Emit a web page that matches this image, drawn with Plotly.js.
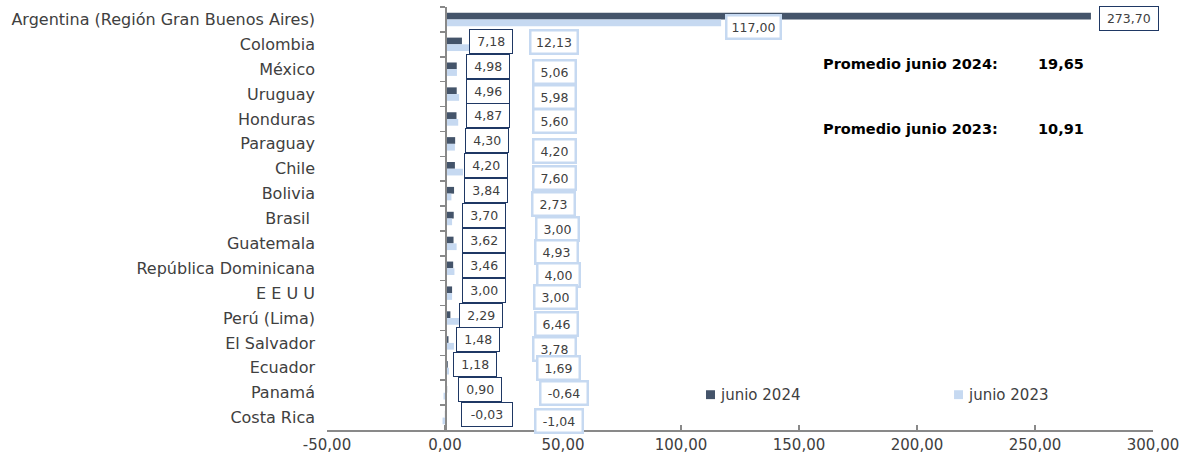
<!DOCTYPE html>
<html>
<head>
<meta charset="utf-8">
<script src="https://cdn.plot.ly/plotly-3.0.1.min.js"></script>
<style>html,body{margin:0;padding:0;background:#fff}#chart{width:1184px;height:457px}</style>
</head>
<body>
<div id="chart"></div>
<script>
// ---- data ----
const categories = ["Argentina (Región Gran Buenos Aires)","Colombia","México","Uruguay","Honduras","Paraguay","Chile","Bolivia","Brasil ","Guatemala","República Dominicana","E E U U","Perú (Lima)","El Salvador","Ecuador","Panamá","Costa Rica"];
const junio2024 = [273.70,7.18,4.98,4.96,4.87,4.30,4.20,3.84,3.70,3.62,3.46,3.00,2.29,1.48,1.18,0.90,-0.03];
const junio2023 = [117.00,12.13,5.06,5.98,5.60,4.20,7.60,2.73,3.00,4.93,4.00,3.00,6.46,3.78,1.69,-0.64,-1.04];
const seriesNames = ["junio 2024","junio 2023"];
const xTickVals = [-50,0,50,100,150,200,250,300];
const xTickText = ["-50,00","0,00","50,00","100,00","150,00","200,00","250,00","300,00"];
const promedioLabels = ["Promedio junio 2024:","Promedio junio 2023:"];
const promedioValues = ["19,65","10,91"];

// ---- label placement (layout only) ----
const lbl24X = [289.8,19.7,18.2,18.4,18.2,17.8,17.4,17.2,16.7,16.5,16.7,16.7,15.4,14.0,12.9,14.7,17.9];
const lbl24Dy = [1.4,3,3,3,3,3,3,3,3,3,3,3,3,3,3,3,3];
const lbl23X = [130.6,46.0,46.3,46.3,46.4,46.2,46.2,46.0,47.5,47.2,48.1,46.8,47.3,46.2,47.9,50.5,48.4];
const lbl23Dy = [-7.9,2.6,-3.1,-3.2,-2,-7.1,-9.2,-10.3,-10.4,-8.5,-6.6,-3.7,-6.1,-6.2,-0.3,-0.4,-3.9];

const C24 = "#44546A", C23 = "#C6D9F1";
const FONT = "DejaVu Sans";
const TXT = "#404040";
const fmt = v => v.toFixed(2).replace(".", ",");

const traces = [
  {type:"bar", orientation:"h", name:seriesNames[0], x:junio2024, y:categories, marker:{color:C24}, hoverinfo:"x+y", showlegend:false},
  {type:"bar", orientation:"h", name:seriesNames[1], x:junio2023, y:categories, marker:{color:C23}, hoverinfo:"x+y", showlegend:false},
  {type:"scatter", mode:"markers", x:categories.map(()=>0), y:categories, yaxis:"y2", marker:{opacity:0}, hoverinfo:"skip", showlegend:false}
];

const ann = [];
categories.forEach((c,i)=>{
  const t24 = fmt(junio2024[i]), t23 = fmt(junio2023[i]);
  ann.push({x:lbl24X[i], y:c, xref:"x", yref:"y", yshift:lbl24Dy[i], text:t24, showarrow:false,
    font:{family:FONT, size:12.5, color:TXT}, bgcolor:"#fff", bordercolor:"#1F3864", borderwidth:1, borderpad:4,
    width:Math.max(32, 7.6*t24.length+4), height:15});
  ann.push({x:lbl23X[i], y:c, xref:"x", yref:"y", yshift:lbl23Dy[i], text:t23, showarrow:false,
    font:{family:FONT, size:12.5, color:TXT}, bgcolor:"#fff", bordercolor:C23, borderwidth:2.5, borderpad:3,
    width:Math.max(34, 7*t23.length+4), height:15});
});
// promedio
const promY = [0.865, 0.712];
promedioLabels.forEach((t,i)=>{
  ann.push({x:159.3, y:promY[i], xref:"x", yref:"paper", xanchor:"left", yanchor:"middle", text:"<b>"+t+"</b>", showarrow:false, font:{family:FONT, size:14.5, color:"#000"}});
  ann.push({x:250.4, y:promY[i], xref:"x", yref:"paper", xanchor:"left", yanchor:"middle", text:"<b>"+promedioValues[i]+"</b>", showarrow:false, font:{family:FONT, size:14.5, color:"#000"}});
});
// legend
const legX = [115.7, 220.8];
const legSq = [[110.6,114.4],[215.7,219.5]];
const shapes = [];
seriesNames.forEach((n,i)=>{
  ann.push({x:legX[i], y:0.083, xref:"x", yref:"paper", xanchor:"left", yanchor:"middle", text:n, showarrow:false, font:{family:FONT, size:15, color:TXT}});
  shapes.push({type:"rect", xref:"x", yref:"paper", x0:legSq[i][0], x1:legSq[i][1], y0:0.073, y1:0.094, fillcolor:i===0?C24:C23, line:{width:0}});
});

const layout = {
  width:1184, height:457,
  margin:{l:327, r:31, t:7, b:27},
  paper_bgcolor:"#fff", plot_bgcolor:"#fff",
  barmode:"group", bargap:0.46, bargroupgap:0,
  showlegend:false,
  font:{family:FONT, size:15, color:TXT},
  xaxis:{range:[-50,300], tickvals:xTickVals, ticktext:xTickText, showgrid:false, zeroline:false,
    showline:true, linecolor:"#898989", linewidth:1.5, ticks:"inside", ticklen:5, tickcolor:"#898989", tickwidth:1.5,
    tickfont:{family:FONT, size:15, color:TXT}, fixedrange:true},
  yaxis:{type:"category", categoryarray:categories, categoryorder:"array", range:[16.5,-0.5], anchor:"free", position:50/350,
    showline:true, linecolor:"#898989", linewidth:1.5, ticks:"outside", tickson:"boundaries", ticklen:5, tickcolor:"#898989", tickwidth:1.5,
    showticklabels:false, showgrid:false, zeroline:false, fixedrange:true},
  yaxis2:{type:"category", categoryarray:categories, categoryorder:"array", range:[16.5,-0.5], overlaying:"y", anchor:"free", position:0, side:"left",
    showline:false, ticks:"", showgrid:false, zeroline:false, ticklabelstandoff:12,
    tickfont:{family:FONT, size:16, color:TXT}, fixedrange:true},
  annotations:ann,
  shapes:shapes
};

Plotly.newPlot("chart", traces, layout, {displayModeBar:false, staticPlot:true});
</script>
</body>
</html>
